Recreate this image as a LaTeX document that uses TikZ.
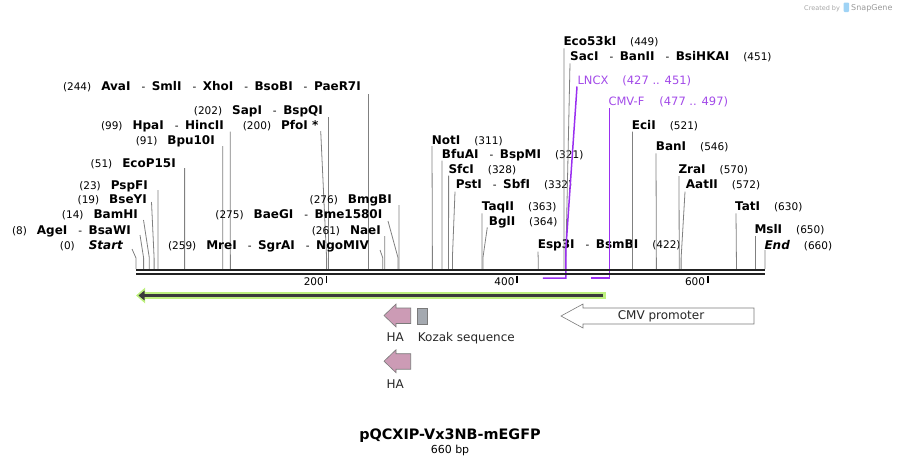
\documentclass[tikz,border=0pt]{standalone}
\usepackage{fontspec}
\setmainfont{DejaVu Sans}
\usetikzlibrary{arrows.meta}
\definecolor{cutgray}{HTML}{808080}
\definecolor{bbone}{HTML}{222222}
\definecolor{primer}{HTML}{9A2FF0}
\definecolor{primertxt}{HTML}{A24AE8}
\definecolor{hapink}{HTML}{CC9BB5}
\definecolor{kozak}{HTML}{A4A9B0}
\definecolor{orfgreen}{HTML}{BDF07E}
\definecolor{orfdark}{HTML}{3A3A3A}
\definecolor{featline}{HTML}{7A7A7A}
\definecolor{sglogo}{HTML}{9FD3F5}
\newcommand{\cpos}[1]{{\mdseries\fontsize{10.5}{12}\selectfont(#1)}}
\newcommand{\dsh}{\hspace{11pt}{\mdseries\fontsize{10.5}{12}\selectfont-}\hspace{6.5pt}}
\newcommand{\lgap}{\hspace{10pt}}
\newcommand{\rgap}{\hspace{14pt}}
\begin{document}
\begin{tikzpicture}[x=1pt,y=-1pt,
  lbl/.style={font=\fontsize{12}{14}\selectfont\bfseries, inner sep=0pt},
  plbl/.style={font=\fontsize{11.5}{13}\selectfont, text=primertxt, inner sep=0pt, anchor=base west},
  flbl/.style={font=\fontsize{12}{14}\selectfont, text=black!85, inner sep=0pt},
  cut/.style={cutgray, line width=0.8pt},
  primerline/.style={primer, line width=1.5pt},
  feat/.style={draw=featline, line width=0.6pt}]
\useasboundingbox (0,0) rectangle (901,466);
% cut sites, labels left of the site
\foreach \nm/\x/\y/\tx/\ty/\p/\txt in {
 s0/123.5/249/132/249/0/{\cpos{0}\hspace{14pt}\textit{Start}},
 s8/131/234/140/235/8/{\cpos{8}\lgap AgeI\dsh BsaWI},
 s14/138/218/143.5/220/14/{\cpos{14}\lgap BamHI},
 s19/147/203/151.5/202/19/{\cpos{19}\lgap BseYI},
 s23/148/189/158/190/23/{\cpos{23}\lgap PspFI},
 s51/176/167/184.6/168/51/{\cpos{51}\lgap EcoP15I},
 s91/215/144/222.7/146/91/{\cpos{91}\lgap Bpu10I},
 s99/224/129.5/230.3/131.5/99/{\cpos{99}\lgap HpaI\dsh HincII},
 s200/318.5/129.5/320.7/131/200/{\cpos{200}\lgap PfoI *},
 s202/323/114/328.5/117/202/{\cpos{202}\lgap SapI\dsh BspQI},
 s244/361/90.5/368.5/94/244/{\cpos{244}\lgap AvaI\dsh SmlI\dsh XhoI\dsh BsoBI\dsh PaeR7I},
 s259/369/249/380/250/259/{\cpos{259}\lgap MreI\dsh SgrAI\dsh NgoMIV},
 s261/381/234/384.7/236/261/{\cpos{261}\lgap NaeI},
 s275/382.5/218.5/388/221/275/{\cpos{275}\lgap BaeGI\dsh Bme1580I},
 s276/392/203.5/399/205/276/{\cpos{276}\lgap BmgBI}}{
  \node[lbl, anchor=base east] (\nm) at (\x,\y) {\txt};
  \coordinate (\nm t) at (\tx,\ty);
  \coordinate (\nm f) at ({136+0.953*\p},269);
  \draw[cut] (\nm t) -- ({136+0.953*\p},258) -- (\nm f);
}
% cut sites, labels right of the site
\foreach \nm/\x/\y/\tx/\ty/\p/\txt in {
 s311/431.7/144/432/146/311/{NotI\rgap\cpos{311}},
 s321/441.7/158.3/442/160.7/321/{BfuAI\dsh BspMI\rgap\cpos{321}},
 s328/448.3/173.3/448.6/175.7/328/{SfcI\rgap\cpos{328}},
 s332/455.7/188.3/455/191.7/332/{PstI\dsh SbfI\rgap\cpos{332}},
 s363/481.7/210.7/482/213.3/363/{TaqII\rgap\cpos{363}},
 s364/488.7/225.7/487.3/227.3/364/{BglI\rgap\cpos{364}},
 s422/537.7/248.3/538/251.7/422/{Esp3I\dsh BsmBI\rgap\cpos{422}},
 s449/563.3/45.7/564/48.3/449/{Eco53kI\rgap\cpos{449}},
 s451/570/60.7/570/63.3/451/{SacI\dsh BanII\dsh BsiHKAI\rgap\cpos{451}},
 s521/631.7/129/632.5/131.7/521/{EciI\rgap\cpos{521}},
 s546/655.7/150.7/656/153.3/546/{BanI\rgap\cpos{546}},
 s570/678.3/173.3/679/176/570/{ZraI\rgap\cpos{570}},
 s572/685.7/188.3/685/191.7/572/{AatII\rgap\cpos{572}},
 s630/735/210.7/736/213.3/630/{TatI\rgap\cpos{630}},
 s650/754.3/233.3/755.5/236/650/{MslI\rgap\cpos{650}},
 s660/764.3/249/765/250/660/{\textit{End}\rgap\cpos{660}}}{
  \node[lbl, anchor=base west] (\nm) at (\x,\y) {\txt};
  \coordinate (\nm t) at (\tx,\ty);
  \coordinate (\nm f) at ({136+0.953*\p},269);
  \draw[cut] (\nm t) -- ({136+0.953*\p},258) -- (\nm f);
}
% primers
\node[plbl] (lncx) at (577.3,84) {LNCX\hspace{14pt}(427 .. 451)};
\coordinate (lncxt) at (577,86.5); \coordinate (lncxe) at (542.9,278);
\draw[primerline] (lncxt) -- (565.8,250) -- (565.8,278) -- (lncxe);
\node[plbl] (cmvf) at (608.3,105.7) {CMV-F\hspace{15pt}(477 .. 497)};
\coordinate (cmvft) at (609.6,108.3); \coordinate (cmvfe) at (590.6,278);
\draw[primerline] (cmvft) -- (609.6,278) -- (cmvfe);
% backbone
\coordinate (b0) at (136,270); \coordinate (b1) at (765,270);
\draw[bbone, line width=2.3pt] (b0) -- (b1);
\draw[bbone, line width=2.3pt] ([yshift=-4.3pt]b0) -- ([yshift=-4.3pt]b1);
\foreach \t in {200,400,600}
\draw[line width=1.5pt] ({136+0.953*\t},275.5) -- ({136+0.953*\t},283)
 node[left, inner sep=2pt, yshift=1pt, font=\fontsize{10.5}{12}\selectfont] (tk\t) {\t};
% features
\coordinate (gl) at (136,295.5); \coordinate (gr) at (606,295.5);
\draw[orfgreen, line width=6.5pt, -{Triangle[length=9pt,width=15pt]}] (gr) -- (gl);
\draw[orfdark, line width=2.6pt, -{Triangle[length=6pt,width=9.5pt]}] ([xshift=-3pt]gr) -- ([xshift=2.5pt]gl);
\foreach \c in {315.5,361.2}
\filldraw[feat, fill=hapink] (384,\c) -- (396,{\c-11.5}) -- (396,{\c-7.5}) -- (410.7,{\c-7.5})
 -- (410.7,{\c+8}) -- (396,{\c+8}) -- (396,{\c+11.5}) -- cycle;
\filldraw[feat, fill=kozak] (417.7,308.3) rectangle (427.3,324);
\filldraw[feat, fill=white] (561,316) -- (583,304) -- (583,308) -- (754,308) -- (754,324)
 -- (583,324) -- (583,328) -- cycle;
\node[flbl, anchor=base] (ha1) at (395.3,341.7) {HA};
\node[flbl, anchor=base] (ha2) at (395.3,388.3) {HA};
\node[flbl, anchor=base west] (koz) at (417.7,341.7) {Kozak sequence};
\node[flbl] (cmv) at (661,316) {CMV promoter};
% title
\node[font=\fontsize{14.4}{16}\selectfont\bfseries, anchor=base] (ttl) at (450,439) {pQCXIP-Vx3NB-mEGFP};
\node[font=\fontsize{11}{12}\selectfont, anchor=base] (len) at (450,453) {660 bp};
% watermark
\node[font=\fontsize{6.5}{8}\selectfont, text=black!35, anchor=base west, inner sep=0pt] (cby) at (804,10) {Created by};
\fill[sglogo, rounded corners=1pt] (843.5,2.5) rectangle (849,12);
\node[font=\fontsize{8}{9}\selectfont, text=black!40, anchor=base west, inner sep=0pt] (sg) at (851,10.5) {SnapGene};
\end{tikzpicture}
\end{document}
